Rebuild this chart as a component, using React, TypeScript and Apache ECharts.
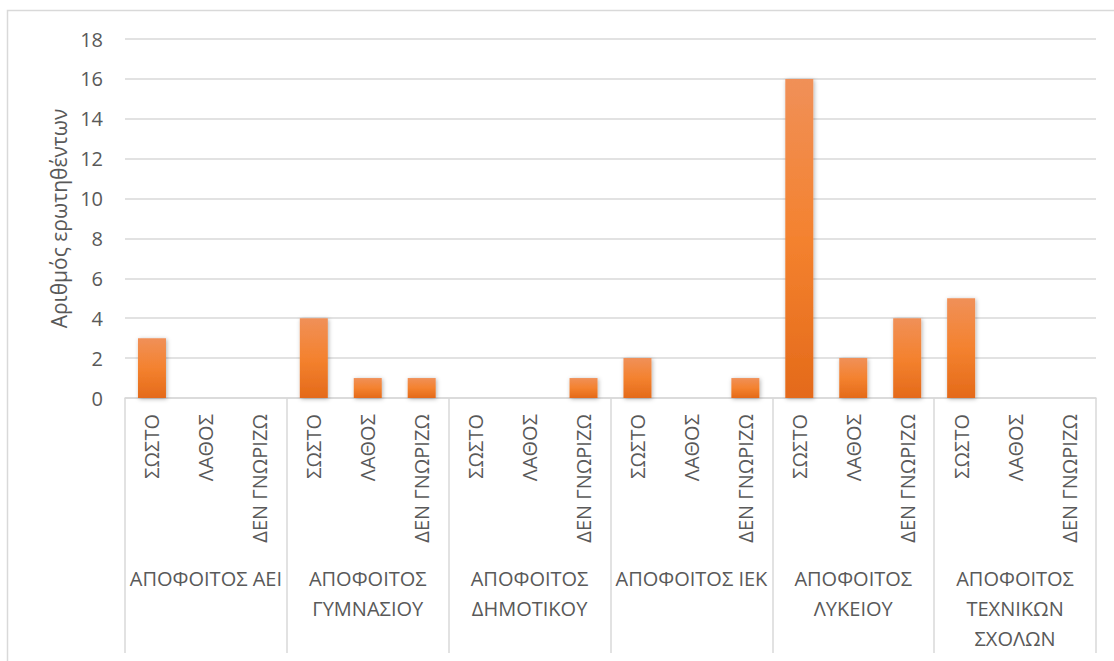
import React, { useEffect, useRef } from "react";
import * as echarts from "echarts";

const answers = ["ΣΩΣΤΟ", "ΛΑΘΟΣ", "ΔΕΝ ΓΝΩΡΙΖΩ"];
const groups = [
  "ΑΠΟΦΟΙΤΟΣ ΑΕΙ",
  "ΑΠΟΦΟΙΤΟΣ\nΓΥΜΝΑΣΙΟΥ",
  "ΑΠΟΦΟΙΤΟΣ\nΔΗΜΟΤΙΚΟΥ",
  "ΑΠΟΦΟΙΤΟΣ ΙΕΚ",
  "ΑΠΟΦΟΙΤΟΣ\nΛΥΚΕΙΟΥ",
  "ΑΠΟΦΟΙΤΟΣ\nΤΕΧΝΙΚΩΝ\nΣΧΟΛΩΝ",
];
const aei = [3, 0, 0];
const gymnasiou = [4, 1, 1];
const dimotikou = [0, 0, 1];
const iek = [2, 0, 1];
const lykeiou = [16, 2, 4];
const technikon = [5, 0, 0];
const yTicks = [0, 2, 4, 6, 8, 10, 12, 14, 16, 18];
const yTitle = "Αριθμός ερωτηθέντων";

export default function App() {
  const ref = useRef<HTMLDivElement>(null);
  useEffect(() => {
    if (!ref.current) return;
    const chart = echarts.init(ref.current, undefined, { renderer: "svg" });
    const groupValues = [aei, gymnasiou, dimotikou, iek, lykeiou, technikon];
    const cats: string[] = [];
    const vals: any[] = [];
    groupValues.forEach((g) => {
      g.forEach((v, i) => {
        cats.push(answers[i]);
        vals.push(v === 0 ? "-" : v);
      });
    });
    const font = "'Open Sans', 'Noto Sans', sans-serif";
    const textColor = "#595959";
    const lineColor = "#d9d9d9";
    chart.setOption({
      animation: false,
      textStyle: { fontFamily: font },
      graphic: [
        {
          type: "rect",
          shape: { x: 7.5, y: 10.5, width: 1200, height: 700 },
          style: { fill: "none", stroke: lineColor, lineWidth: 1.5 },
          silent: true,
        },
      ],
      grid: { left: 125, right: 18, top: 39, bottom: 263, containLabel: false },
      xAxis: [
        {
          type: "category",
          data: cats,
          position: "bottom",
          axisLine: { show: true, lineStyle: { color: lineColor, width: 1.5 } },
          axisTick: { show: false },
          axisLabel: {
            rotate: 90,
            interval: 0,
            margin: 16,
            fontSize: 20,
            color: textColor,
            fontFamily: font,
          },
        },
        {
          type: "category",
          data: groups,
          position: "bottom",
          axisLine: { show: false },
          axisTick: { show: true, length: 255, lineStyle: { color: lineColor, width: 1.5 } },
          axisLabel: {
            interval: 0,
            margin: 165,
            fontSize: 20,
            lineHeight: 30,
            color: textColor,
            fontFamily: font,
            align: "center",
          },
        },
      ],
      yAxis: {
        type: "value",
        min: yTicks[0],
        max: yTicks[yTicks.length - 1],
        interval: 2,
        name: yTitle,
        nameLocation: "middle",
        nameGap: 56,
        nameRotate: 90,
        nameTextStyle: { fontSize: 21, color: textColor, fontFamily: font },
        axisLine: { show: false },
        axisTick: { show: false },
        axisLabel: { fontSize: 20, color: textColor, margin: 22, fontFamily: font },
        splitLine: { lineStyle: { color: lineColor, width: 1.5 } },
      },
      series: [
        {
          type: "bar",
          xAxisIndex: 0,
          data: vals,
          barWidth: 28,
          itemStyle: {
            color: new echarts.graphic.LinearGradient(0, 0, 0, 1, [
              { offset: 0, color: "#F09058" },
              { offset: 0.5, color: "#F4822F" },
              { offset: 1, color: "#E46A1A" },
            ]),
            shadowColor: "rgba(0,0,0,0.3)",
            shadowBlur: 4,
            shadowOffsetX: 1,
            shadowOffsetY: 1,
          },
        },
      ],
    });
    return () => chart.dispose();
  }, []);
  return (
    <div
      ref={ref}
      style={{ position: "absolute", left: 0, top: 0, width: 1114, height: 661, background: "#fff" }}
    />
  );
}
